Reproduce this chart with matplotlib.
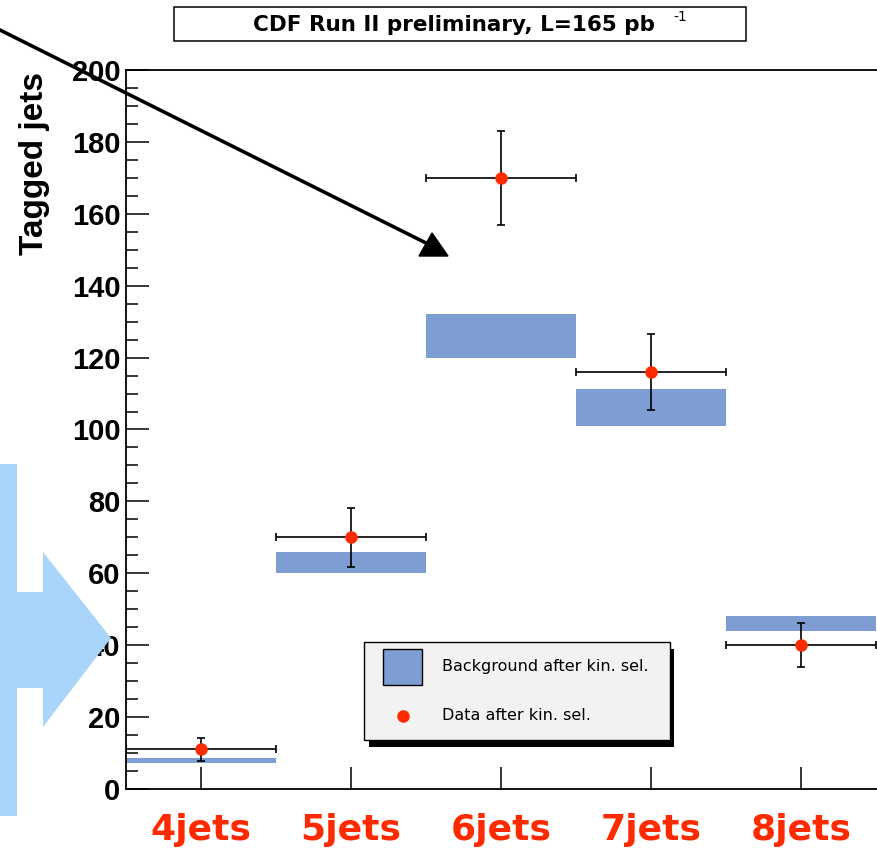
import matplotlib.pyplot as plt
from matplotlib.patches import Rectangle, Polygon
from matplotlib.lines import Line2D

# Data
categories = ["4jets", "5jets", "6jets", "7jets", "8jets"]
njets = [4, 5, 6, 7, 8]
data = [11, 70, 170, 116, 40]
data_err = [3.3, 8.2, 13, 10.7, 6.2]
bkg_low = [7.3, 60, 120, 101, 44]
bkg_high = [8.7, 66, 132, 111.3, 48]

W, H = 878, 855
plt.rcParams["font.family"] = ["Liberation Sans", "DejaVu Sans"]

fig = plt.figure(figsize=(W / 100, H / 100), dpi=100)


def fx(px):
    return px / W


def fy(py):
    return 1 - py / H


# axes: left spine at x=126, bottom at y=789, top at y=70, cut by right edge
ax = fig.add_axes([fx(126), fy(789), fx(W - 126), (789 - 70) / H])
ax.set_xlim(3.5, 3.5 + (W - 126) / 150)
ax.set_ylim(0, 200)

band_color = "#7d9dd3"
red = "#ff2a00"

# background bands
heights = [h - l for h, l in zip(bkg_high, bkg_low)]
ax.bar(njets, heights, bottom=bkg_low, width=1.0, color=band_color,
       edgecolor="none", zorder=2)

# data points with error bars
ax.errorbar(njets, data, yerr=data_err, xerr=0.5, fmt="o", color=red,
            markersize=8, ecolor="black", elinewidth=1.2, capsize=3,
            capthick=1.2, zorder=3)

# axes styling
for s in ["left", "top", "bottom"]:
    ax.spines[s].set_linewidth(1.3)
ax.spines["right"].set_visible(False)

ax.set_yticks(range(0, 201, 20))
ax.set_yticks(range(0, 201, 5), minor=True)
ax.tick_params(axis="y", which="major", direction="in", length=16.5, width=1.1,
               labelsize=21, pad=4)
ax.tick_params(axis="y", which="minor", direction="in", length=8.5, width=1.1)
for lab in ax.get_yticklabels():
    lab.set_fontweight("bold")

ax.set_xticks(njets, categories)
ax.tick_params(axis="x", which="major", direction="in", length=16, width=1.1,
               labelsize=26, labelcolor=red, pad=17)
ax.tick_params(axis="x", which="minor", bottom=False)
for lab in ax.get_xticklabels():
    lab.set_fontweight("bold")
    lab.set_family("DejaVu Sans")

fig.text(fx(35), fy(72), "Tagged jets", rotation=90, ha="center", va="top",
         fontsize=24, fontweight="bold")

# title box
fig.add_artist(Rectangle((fx(174), fy(41)), fx(746 - 174), (41 - 7) / H,
                         transform=fig.transFigure, facecolor="white",
                         edgecolor="black", linewidth=1.1))
fig.text(fx(454), fy(25), "CDF Run II preliminary, L=165 pb", ha="center",
         va="center", fontsize=15.5, fontweight="bold", family="DejaVu Sans")
fig.text(fx(673), fy(17), "-1", ha="left", va="center", fontsize=10,
         family="DejaVu Sans")

# legend (drawn by hand)
fig.add_artist(Rectangle((fx(369), fy(747)), fx(674 - 369), (747 - 649) / H,
                         transform=fig.transFigure, facecolor="black",
                         edgecolor="none", zorder=5))
fig.add_artist(Rectangle((fx(364), fy(740)), fx(670 - 364), (740 - 642) / H,
                         transform=fig.transFigure, facecolor="#f2f2f2",
                         edgecolor="black", linewidth=1.0, zorder=6))
fig.add_artist(Rectangle((fx(383), fy(685)), fx(422 - 383), (685 - 649) / H,
                         transform=fig.transFigure, facecolor=band_color,
                         edgecolor="black", linewidth=1.0, zorder=7))
fig.add_artist(Line2D([fx(403)], [fy(716)], marker="o", color=red,
                      markersize=8, transform=fig.transFigure, zorder=7))
fig.text(fx(442), fy(667), "Background after kin. sel.", ha="left",
         va="center", fontsize=11.5, family="DejaVu Sans", zorder=8)
fig.text(fx(442), fy(715), "Data after kin. sel.", ha="left",
         va="center", fontsize=11.5, family="DejaVu Sans", zorder=8)

# black pointer arrow
fig.add_artist(Line2D([fx(0), fx(428)], [fy(30), fy(244)], color="black",
                      linewidth=2.6, transform=fig.transFigure, zorder=9))
fig.add_artist(Polygon([(fx(419), fy(256)), (fx(432), fy(233)), (fx(448), fy(256))],
                       closed=True, transform=fig.transFigure,
                       facecolor="black", edgecolor="black", zorder=9))

# light blue arrow on the left
blue_pts = [(0, 464), (17, 464), (17, 592), (43, 592), (43, 552), (111, 638),
            (43, 727), (43, 688), (17, 688), (17, 816), (0, 816)]
fig.add_artist(Polygon([(fx(x), fy(y)) for x, y in blue_pts], closed=True,
                       transform=fig.transFigure, facecolor="#aad5fb",
                       edgecolor="none", zorder=10))

fig.savefig("out.png", dpi=100)
